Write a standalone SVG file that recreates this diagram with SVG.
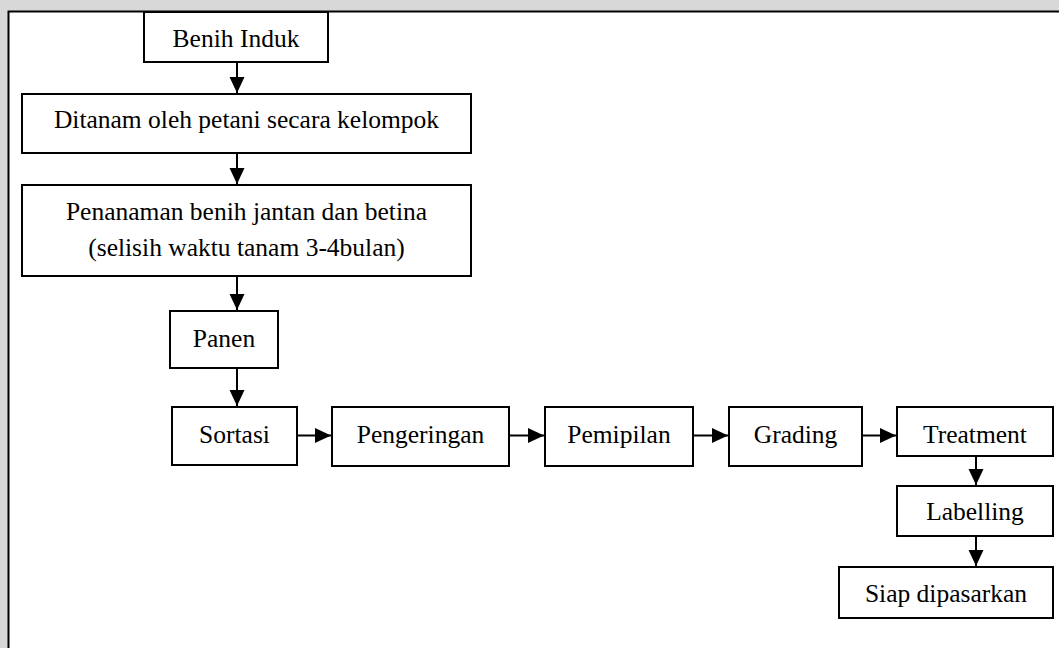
<svg xmlns="http://www.w3.org/2000/svg" width="1059" height="648" viewBox="0 0 1059 648">
<defs>
<style>
.box{fill:#fff;stroke:#000;stroke-width:2}
.t{font-family:"Liberation Serif","Times New Roman",serif;font-size:25.5px;fill:#000;text-anchor:middle}
.c{stroke:#000;stroke-width:2;fill:none;marker-end:url(#ah)}
</style>
<marker id="ah" markerUnits="userSpaceOnUse" markerWidth="16" markerHeight="16" viewBox="0 0 16 16" refX="16" refY="8" orient="auto">
<path d="M0,0.5 L16,8 L0,15.5 Z" fill="#000"/>
</marker>
</defs>
<rect x="0" y="0" width="1059" height="648" fill="#d8d8d8"/>
<rect x="8.5" y="11.5" width="1060" height="650" fill="#fff" stroke="#000" stroke-width="2"/>
<g id="connectors">
<line class="c" x1="237" y1="62" x2="237" y2="93"/>
<line class="c" x1="237" y1="153" x2="237" y2="184"/>
<line class="c" x1="237" y1="276" x2="237" y2="310"/>
<line class="c" x1="237" y1="368" x2="237" y2="406"/>
<line class="c" x1="297" y1="435.5" x2="331" y2="435.5"/>
<line class="c" x1="509" y1="435.5" x2="544" y2="435.5"/>
<line class="c" x1="693" y1="435.5" x2="728" y2="435.5"/>
<line class="c" x1="862" y1="435.5" x2="896" y2="435.5"/>
<line class="c" x1="976" y1="456" x2="976" y2="485"/>
<line class="c" x1="976" y1="536" x2="976" y2="566"/>
</g>
<g id="benih-induk"><rect class="box" x="144" y="12" width="184" height="50"/><text class="t" x="236" y="47">Benih Induk</text></g>
<g id="ditanam"><rect class="box" x="22" y="94" width="449" height="59"/><text class="t" x="246.5" y="128">Ditanam oleh petani secara kelompok</text></g>
<g id="penanaman"><rect class="box" x="22" y="185" width="449" height="91"/><text class="t" x="246.5" y="220">Penanaman benih jantan dan betina</text><text class="t" x="246.5" y="256">(selisih waktu tanam 3-4bulan)</text></g>
<g id="panen"><rect class="box" x="170" y="311" width="108" height="57"/><text class="t" x="224" y="347">Panen</text></g>
<g id="sortasi"><rect class="box" x="172" y="407" width="125" height="58"/><text class="t" x="234.5" y="443">Sortasi</text></g>
<g id="pengeringan"><rect class="box" x="332" y="407" width="177" height="59"/><text class="t" x="420.5" y="443">Pengeringan</text></g>
<g id="pemipilan"><rect class="box" x="545" y="407" width="148" height="59"/><text class="t" x="619" y="443">Pemipilan</text></g>
<g id="grading"><rect class="box" x="729" y="407" width="133" height="59"/><text class="t" x="795.5" y="443">Grading</text></g>
<g id="treatment"><rect class="box" x="897" y="407" width="156" height="49"/><text class="t" x="975" y="443">Treatment</text></g>
<g id="labelling"><rect class="box" x="897" y="486" width="156" height="50"/><text class="t" x="975" y="520">Labelling</text></g>
<g id="siap"><rect class="box" x="839" y="567" width="214" height="51"/><text class="t" x="946" y="602">Siap dipasarkan</text></g>
</svg>
